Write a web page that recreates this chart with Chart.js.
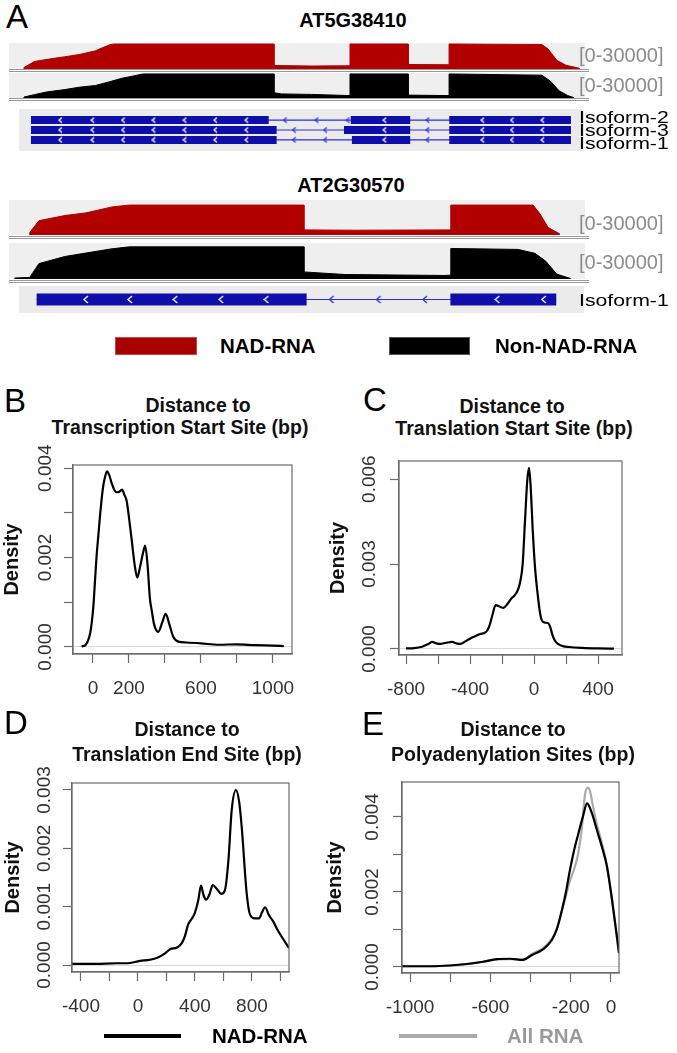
<!DOCTYPE html>
<html>
<head>
<meta charset="utf-8">
<script src="https://cdn.jsdelivr.net/npm/chart.js@4.4.1/dist/chart.umd.min.js"></script>
<style>
  body { margin: 0; background: #fff; width: 677px; height: 1053px; position: relative; overflow: hidden;
         font-family: "Liberation Sans", Arial, Helvetica, sans-serif; }
  canvas { position: absolute; }
  .t { position: absolute; white-space: nowrap; line-height: 1; transform-origin: 0 50%; }
  .box { position: absolute; box-sizing: border-box; }
</style>
</head>
<body>
<script>
// ---------- panel A: coverage tracks (position = % of locus window, coverage = % of 30000) ----------
const at5RedPos   = [2.6, 2.6, 4.4, 7.0, 9.7, 12.2, 14.9, 16.2, 17.5, 18.2, 46.0, 46.0, 52.5, 59.2, 59.2, 69.3, 69.3, 76.4, 76.4, 92.5, 93.6, 95.1, 96.7, 99.0, 99.0];
const at5RedCov   = [0, 6, 30, 40, 49, 58, 72, 85, 97, 100, 100, 14, 12, 13, 100, 100, 18, 17, 100, 98, 80, 35, 15, 3, 0];
const at5BlackPos = [2.6, 2.6, 4.4, 6.5, 9.7, 12.2, 15.0, 17.5, 19.6, 21.7, 23.2, 46.0, 46.0, 47.3, 52.5, 59.2, 59.2, 69.3, 69.3, 76.4, 76.4, 92.5, 94.0, 95.5, 97.0, 98.0, 98.0];
const at5BlackCov = [0, 4, 14, 25, 35, 45, 52, 68, 82, 92, 100, 100, 22, 17, 15, 10, 100, 100, 12, 10, 100, 95, 70, 30, 10, 2, 0];
const at2RedPos   = [3.6, 3.6, 5.2, 9.7, 13.4, 17.9, 20.9, 51.2, 51.2, 60.0, 76.7, 76.7, 91.0, 92.2, 93.6, 95.5, 95.5];
const at2RedCov   = [0, 8, 48, 65, 74, 94, 100, 100, 17, 16, 17, 100, 100, 70, 25, 5, 0];
const at2BlackPos = [1.0, 1.0, 3.6, 5.2, 9.7, 13.4, 17.9, 20.9, 51.2, 51.2, 58.3, 75.7, 76.7, 76.7, 88.4, 91.3, 93.2, 95.1, 97.4, 97.4];
const at2BlackCov = [0, 3, 5, 48, 70, 81, 94, 100, 100, 22, 14, 11, 12, 95, 92, 80, 55, 15, 2, 0];

// gene models
const at5Isoforms   = ['Isoform-2', 'Isoform-3', 'Isoform-1'];
const at5ExonRow    = [0, 0, 0, 1, 1, 1, 2, 2, 2];
const at5ExonStart  = [3.0, 59.5, 76.9, 3.0, 58.3, 76.9, 3.0, 59.7, 76.9];
const at5ExonEnd    = [45.0, 70.0, 98.4, 46.4, 70.0, 98.4, 46.4, 70.0, 98.4];
const at5ExonMarks  = [8.2, 13.9, 19.3, 24.7, 30.2, 35.6, 41.1, 65.5, 82.8, 88.0, 93.4];
const at5IntronRow  = [0, 0, 0, 0, 1, 1, 1, 2, 2, 2];
const at5IntronPos  = [47.9, 53.5, 59.0, 73.1, 49.5, 55.0, 73.1, 49.5, 55.0, 73.1];
const at2Isoforms   = ['Isoform-1'];
const at2ExonRow    = [0, 0];
const at2ExonStart  = [4.0, 77.1];
const at2ExonEnd    = [51.7, 95.8];
const at2ExonMarks  = [12.7, 20.5, 28.5, 36.6, 44.6, 85.4, 93.6];
const at2IntronRow  = [0, 0, 0];
const at2IntronPos  = [56.1, 64.4, 72.6];

// ---------- panels B-E: density curves ----------
const tssPos = [-63,-40,-26,-15,-7,2,10,20,30,39,48,57,67,78,90,105,120,133,147,161,175,187,200,215,233,246,262,278,290,302,317,326,340,363,385,404,425,446,474,520,600,700,800,900,1000,1060];
const tssDen = [0.00001,0.00005,0.00016,0.00032,0.00054,0.0009,0.0014,0.00203,0.0025,0.00293,0.0033,0.0036,0.0038,0.00393,0.00385,0.00365,0.0035,0.00346,0.00347,0.00352,0.0034,0.00327,0.0029,0.0024,0.0018,0.00155,0.0018,0.0021,0.00227,0.0019,0.00106,0.00083,0.0005,0.00034,0.00055,0.00074,0.0005,0.00023,0.00012,0.0001,0.00008,0.00005,0.00006,0.00004,0.00003,0.00002];
const tslPos = [-800,-750,-700,-660,-637,-610,-587,-550,-512,-485,-462,-420,-380,-337,-300,-280,-260,-240,-215,-192,-165,-139,-120,-100,-88,-71,-56,-42,-31,-21,-8,6,27,40,50,70,87,100,115,130,150,180,220,300,400,500];
const tslDen = [0.00002,0.00003,0.00008,0.00018,0.00025,0.0002,0.00018,0.00022,0.00025,0.0002,0.00018,0.0003,0.00042,0.00053,0.0006,0.0008,0.0012,0.00155,0.0015,0.00145,0.0016,0.0018,0.0019,0.0021,0.00233,0.003,0.00456,0.00597,0.0064,0.00573,0.0042,0.0029,0.00173,0.0012,0.001,0.00093,0.00092,0.0008,0.0005,0.0003,0.00018,0.0001,0.00007,0.00004,0.00002,0.00001];
const tesPos = [-463,-300,-150,-77,14,84,140,190,225,274,309,330,353,380,400,424,442,460,478,500,525,555,585,610,635,658,688,710,728,763,787,820,850,870,892,920,951,980,1010,1060];
const tesDen = [0.00002,0.00002,0.00003,0.00003,0.00007,0.00009,0.00013,0.0002,0.00027,0.0003,0.00038,0.0005,0.0007,0.0008,0.0009,0.00112,0.00136,0.0012,0.00112,0.0012,0.00137,0.0013,0.00122,0.00128,0.0018,0.00266,0.003,0.0028,0.00237,0.00123,0.00086,0.0008,0.0008,0.0009,0.00099,0.00085,0.00074,0.0006,0.00048,0.00029];
const pasPos = [-1040,-900,-800,-716,-637,-567,-502,-438,-393,-338,-294,-270,-244,-224,-204,-184,-164,-140,-119,-95,-70,-45,-20,5,40];
const pasNad = [0.00002,0.00002,0.00004,0.00008,0.00014,0.00021,0.00022,0.00019,0.00032,0.00047,0.00072,0.001,0.00152,0.002,0.00259,0.0031,0.00352,0.004,0.00436,0.0041,0.00365,0.0032,0.00268,0.0018,0.00037];
const pasAllPos = [-1040,-900,-800,-716,-637,-567,-502,-438,-393,-338,-294,-270,-244,-224,-204,-184,-164,-145,-129,-115,-105,-90,-70,-45,-20,5,40];
const pasAll = [0.00002,0.00002,0.00004,0.00008,0.00014,0.0002,0.00021,0.0002,0.00035,0.0005,0.00075,0.001,0.0015,0.0019,0.0023,0.0026,0.003,0.0037,0.0046,0.00478,0.0047,0.0043,0.0038,0.0033,0.0027,0.0018,0.00037];

// tick values and labels
const tssTicksX = [0, 200, 400, 600, 800, 1000];
const tssLabelsX = ['0', '200', '', '600', '', '1000'];
const tssTicksY = [0, 0.001, 0.002, 0.003, 0.004];
const tssLabelsY = ['0.000', '', '0.002', '', '0.004'];
const tslTicksX = [-800, -600, -400, -200, 0, 200, 400];
const tslLabelsX = ['-800', '', '-400', '', '0', '', '400'];
const tslTicksY = [0, 0.003, 0.006];
const tslLabelsY = ['0.000', '0.003', '0.006'];
const tesTicksX = [-400, -200, 0, 200, 400, 600, 800, 1000];
const tesLabelsX = ['-400', '', '0', '', '400', '', '800', ''];
const tesTicksY = [0, 0.001, 0.002, 0.003];
const tesLabelsY = ['0.000', '0.001', '0.002', '0.003'];
const pasTicksX = [-1000, -800, -600, -400, -200, 0];
const pasLabelsX = ['-1000', '', '-600', '', '-200', '0'];
const pasTicksY = [0, 0.001, 0.002, 0.003, 0.004];
const pasLabelsY = ['0.000', '', '0.002', '', '0.004'];

Chart.defaults.font.family = '"Liberation Sans", Arial, Helvetica, sans-serif';

function canvasAt(x, y, w, h) {
  const c = document.createElement('canvas');
  c.width = w; c.height = h;
  c.style.left = x + 'px'; c.style.top = y + 'px';
  document.body.appendChild(c);
  return c;
}
function text(str, x, y, css, center, stretch) {
  const d = document.createElement('div');
  d.className = 't';
  d.textContent = str;
  Object.assign(d.style, css);
  d.style.left = x + 'px'; d.style.top = y + 'px';
  d.style.transform = (center ? 'translate(-50%,-50%)' : 'translate(0,-50%)') + (stretch ? ' scaleX(' + stretch + ')' : '');
  document.body.appendChild(d);
  return d;
}
function rect(x, y, w, h, css) {
  const d = document.createElement('div');
  d.className = 'box';
  Object.assign(d.style, { left: x + 'px', top: y + 'px', width: w + 'px', height: h + 'px' }, css);
  document.body.appendChild(d);
  return d;
}
function chevron(color, w, h, lw) {
  const c = document.createElement('canvas');
  c.width = w; c.height = h;
  const g = c.getContext('2d');
  g.strokeStyle = color; g.lineWidth = lw;
  g.beginPath(); g.moveTo(w - 1, 1); g.lineTo(1, h / 2); g.lineTo(w - 1, h - 1); g.stroke();
  return c;
}

const areaFill = color => ({
  id: 'areaFill',
  beforeDraw(chart) {
    const { ctx, chartArea: a } = chart;
    ctx.save(); ctx.fillStyle = color;
    ctx.fillRect(a.left, a.top, a.right - a.left, a.bottom - a.top);
    ctx.restore();
  }
});
const boxFrame = {
  id: 'boxFrame',
  afterDraw(chart) {
    const { ctx, chartArea: a } = chart;
    ctx.save(); ctx.strokeStyle = '#6b6b6b'; ctx.lineWidth = 1.2;
    ctx.strokeRect(a.left, a.top, a.right - a.left, a.bottom - a.top);
    ctx.restore();
  }
};
const quiet = { legend: { display: false }, tooltip: { enabled: false } };

function trackChart(x, y, w, h, pos, cov, color, yMax) {
  return new Chart(canvasAt(x, y, w, h), {
    type: 'scatter',
    data: { datasets: [{
      data: pos.map((p, i) => ({ x: p, y: cov[i] })),
      showLine: true, fill: 'origin', backgroundColor: color, borderColor: color,
      borderWidth: 1, pointRadius: 0, tension: 0
    }] },
    options: {
      responsive: false, animation: false, events: [],
      layout: { padding: 0 }, plugins: quiet,
      scales: { x: { type: 'linear', min: 0, max: 100, display: false },
                y: { min: 0, max: yMax, display: false } }
    },
    plugins: [areaFill('#efefef')]
  });
}

function geneChart(x, y, w, h, rows, yMin, yMax, exRow, exStart, exEnd, marks, inRow, inPos, barW, chevW, chevH) {
  const exonPts = [], intronPts = [], markPts = [], inPts = [];
  exRow.forEach((r, i) => {
    exonPts.push({ x: exStart[i], y: r }, { x: exEnd[i], y: r }, { x: exEnd[i], y: null });
  });
  rows.forEach((_, r) => {
    const s = Math.min(...exStart.filter((_, i) => exRow[i] === r));
    const e = Math.max(...exEnd.filter((_, i) => exRow[i] === r));
    intronPts.push({ x: s, y: r }, { x: e, y: r }, { x: e, y: null });
    marks.forEach(m => markPts.push({ x: m, y: r }));
  });
  inRow.forEach((r, i) => inPts.push({ x: inPos[i], y: r }));
  const intronCol = '#2e2ee0', exonCol = '#0e0eab';
  return new Chart(canvasAt(x, y, w, h), {
    type: 'scatter',
    data: { datasets: [
      { data: markPts, pointStyle: chevron('#ffffff', chevW, chevH, 1.3), pointRadius: 3 },
      { data: inPts, pointStyle: chevron(intronCol, chevW, chevH, 1.3), pointRadius: 3 },
      { data: exonPts, showLine: true, borderColor: exonCol, borderWidth: barW, borderCapStyle: 'butt', pointRadius: 0 },
      { data: intronPts, showLine: true, borderColor: intronCol, borderWidth: 1.2, pointRadius: 0 }
    ] },
    options: {
      responsive: false, animation: false, events: [],
      layout: { padding: 0 }, plugins: quiet,
      scales: { x: { type: 'linear', min: 0, max: 100, display: false },
                y: { min: yMin, max: yMax, reverse: true, display: false } }
    }
  });
}

function densityPanel(cfg) {
  const c = canvasAt(cfg.left, cfg.top, cfg.w, cfg.h);
  const bl = cfg.box[0] - cfg.left, bt = cfg.box[1] - cfg.top;
  const br = cfg.box[2] - cfg.left, bb = cfg.box[3] - cfg.top;
  const axisCol = '#6b6b6b';
  return new Chart(c, {
    type: 'scatter',
    data: { datasets: cfg.series.map(s => ({
      data: s.pos.map((p, i) => ({ x: p, y: s.val[i] })),
      showLine: true, borderColor: s.color, borderWidth: 2.2, pointRadius: 0,
      cubicInterpolationMode: 'monotone', fill: false
    })) },
    options: {
      responsive: false, animation: false, events: [],
      layout: { padding: { left: 0, top: bt, right: cfg.w - br, bottom: 0 } },
      plugins: quiet,
      scales: {
        x: {
          type: 'linear', min: cfg.xMin, max: cfg.xMax,
          afterBuildTicks: a => { a.ticks = cfg.xTicks.map(v => ({ value: v })); },
          afterFit: a => { a.height = cfg.h - bb; },
          ticks: { autoSkip: false, maxRotation: 0, padding: 14, color: '#333', font: { size: 19 },
                   callback: (v, i) => cfg.xLabels[i] },
          grid: { drawOnChartArea: false, tickLength: 9, tickColor: axisCol, tickWidth: 1.2 },
          border: { color: axisCol, width: 1.2 }
        },
        y: {
          min: cfg.yMin, max: cfg.yMax,
          afterBuildTicks: a => { a.ticks = cfg.yTicks.map(v => ({ value: v })); },
          afterFit: a => { a.width = bl; },
          ticks: { autoSkip: false, minRotation: 90, maxRotation: 90, crossAlign: 'center',
                   padding: cfg.yPad, color: '#333', font: { size: 19 },
                   callback: (v, i) => cfg.yLabels[i] },
          grid: { color: ctx => (ctx.tick && ctx.tick.value === 0 ? '#d8d8d8' : 'rgba(0,0,0,0)'),
                  tickLength: 9, tickColor: axisCol, tickWidth: 1.2 },
          border: { color: axisCol, width: 1.2 },
          title: { display: true, text: 'Density', color: '#111', font: { size: 20, weight: 'bold' },
                   padding: { top: cfg.titlePad, bottom: 0 } }
        }
      }
    },
    plugins: [boxFrame]
  });
}

// ---------- panel A ----------
const bold20 = { fontSize: '20px', fontWeight: 'bold', color: '#000' };
const scaleTxt = { fontSize: '20px', color: '#8c8c8c' };
const isoTxt = { fontSize: '17px', color: '#000' };
const sep = yy => rect(9, yy, 580, 3, { borderTop: '1px solid #9a9a9a', borderBottom: '1px solid #9a9a9a', background: '#fff' });

text('A', 6, 16, { fontSize: '33px', color: '#000' });

text('AT5G38410', 353, 20, bold20, true);
trackChart(9, 43, 576, 26, at5RedPos, at5RedCov, '#b20000', 104);
sep(69);
trackChart(9, 73, 576, 25, at5BlackPos, at5BlackCov, '#000000', 104);
sep(98);
text('[0-30000]', 579, 55, scaleTxt);
text('[0-30000]', 579, 85, scaleTxt);
rect(19, 109, 565, 42, { background: '#ebebeb' });
geneChart(9, 109, 576, 42, at5Isoforms, -0.615, 2.615, at5ExonRow, at5ExonStart, at5ExonEnd,
          at5ExonMarks, at5IntronRow, at5IntronPos, 8, 5, 7);
at5Isoforms.forEach((s, i) => text(s, 579, 117 + 13 * i, isoTxt, false, 1.25));

text('AT2G30570', 351, 185, bold20, true);
trackChart(9, 200, 576, 35, at2RedPos, at2RedCov, '#b20000', 117);
sep(236);
trackChart(9, 243, 576, 36, at2BlackPos, at2BlackCov, '#000000', 112);
sep(280);
text('[0-30000]', 579, 223, scaleTxt);
text('[0-30000]', 579, 262, scaleTxt);
rect(19, 286, 565, 27, { background: '#ebebeb' });
geneChart(9, 286, 576, 27, at2Isoforms, -0.5, 0.5, at2ExonRow, at2ExonStart, at2ExonEnd,
          at2ExonMarks, at2IntronRow, at2IntronPos, 12, 6, 9);
at2Isoforms.forEach((s, i) => text(s, 579, 300 + 13 * i, isoTxt, false, 1.25));

// legend for panel A
const legTxt = { fontSize: '20.5px', fontWeight: 'bold', color: '#000' };
rect(115, 337, 82, 18, { background: '#a80000', border: '1px solid #cc4444' });
text('NAD-RNA', 220, 346, legTxt);
rect(389, 337, 81, 18, { background: '#000', border: '1px solid #555' });
text('Non-NAD-RNA', 495, 346, legTxt);

// ---------- panels B-E ----------
const letter = { fontSize: '33px', color: '#000' };
const ttl = { fontSize: '19.5px', fontWeight: 'bold', color: '#111' };

text('B', 4, 400, letter);
text('Distance to', 198, 406, ttl, true);
text('Transcription Start Site (bp)', 180, 428, ttl, true);
densityPanel({ left: 0, top: 435, w: 310, h: 270, box: [73, 465, 292, 654],
  xMin: -111, xMax: 1106, yMin: -0.000157, yMax: 0.00407,
  xTicks: tssTicksX, xLabels: tssLabelsX, yTicks: tssTicksY, yLabels: tssLabelsY,
  yPad: -5.5, titlePad: 0.5, series: [{ pos: tssPos, val: tssDen, color: '#000' }] });

text('C', 363, 399, letter);
text('Distance to', 512, 407, ttl, true);
text('Translation Start Site (bp)', 514, 429, ttl, true);
densityPanel({ left: 325, top: 436, w: 313, h: 269, box: [399, 461, 622, 655],
  xMin: -844, xMax: 550, yMin: -0.000212, yMax: 0.00664,
  xTicks: tslTicksX, xLabels: tslLabelsX, yTicks: tslTicksY, yLabels: tslLabelsY,
  yPad: -3.5, titlePad: 1, series: [{ pos: tslPos, val: tslDen, color: '#000' }] });

text('D', 4, 722, letter);
text('Distance to', 187, 730, ttl, true);
text('Translation End Site (bp)', 187, 755, ttl, true);
densityPanel({ left: 0, top: 760, w: 310, h: 263, box: [72, 783, 289, 972],
  xMin: -463, xMax: 1060, yMin: -0.00012, yMax: 0.00312,
  xTicks: tesTicksX, xLabels: tesLabelsX, yTicks: tesTicksY, yLabels: tesLabelsY,
  yPad: -5.5, titlePad: 1, series: [{ pos: tesPos, val: tesDen, color: '#000' }] });

text('E', 362, 723, letter);
text('Distance to', 513, 730, ttl, true);
text('Polyadenylation Sites (bp)', 513, 755, ttl, true);
densityPanel({ left: 325, top: 760, w: 313, h: 264, box: [402, 782, 619, 973],
  xMin: -1040, xMax: 40, yMin: -0.00016, yMax: 0.00493,
  xTicks: pasTicksX, xLabels: pasLabelsX, yTicks: pasTicksY, yLabels: pasLabelsY,
  yPad: -3.5, titlePad: -2,
  series: [{ pos: pasPos, val: pasNad, color: '#000' }, { pos: pasAllPos, val: pasAll, color: '#aaaaaa' }] });

// bottom legend
rect(104, 1034, 77, 4, { background: '#000' });
text('NAD-RNA', 212, 1036, legTxt);
rect(399, 1034, 78, 4, { background: '#aaaaaa' });
text('All RNA', 507, 1036, { fontSize: '20.5px', fontWeight: 'bold', color: '#999' });
</script>
</body>
</html>
